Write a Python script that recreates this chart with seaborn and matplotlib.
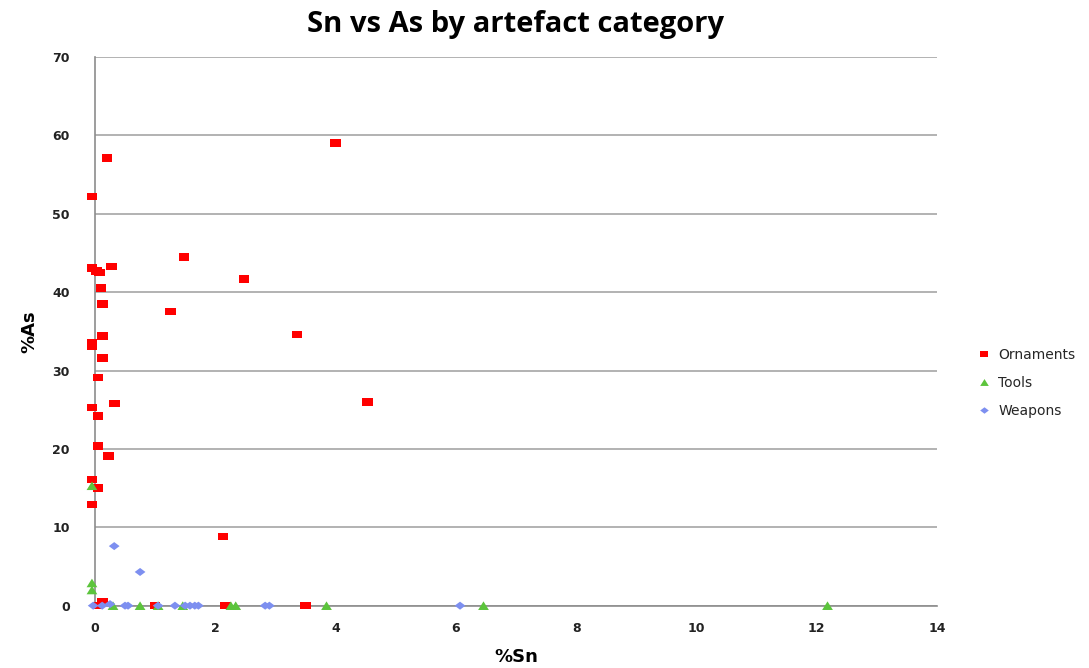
import numpy as np
import pandas as pd
import matplotlib
matplotlib.use("Agg")
import matplotlib.pyplot as plt
from matplotlib.path import Path
import seaborn as sns

# %Sn / %, per artefact category
orn_sn = [-0.05, 0.2, 4.0, -0.05, 0.03, 0.08, 0.27, 0.1, 1.48, 2.48, 0.12, 1.26, 3.36, 0.12,
          -0.05, -0.05, 0.12, 0.05, -0.05, 0.33, 0.05, 0.05, 0.23, -0.05, 0.05, -0.05,
          2.13, 4.53, 0.12, 0.05, 1.0, 2.17, 3.5]
orn_as = [52.2, 57.1, 59.0, 43.1, 42.7, 42.5, 43.3, 40.5, 44.5, 41.7, 38.5, 37.5, 34.6, 34.4,
          33.5, 33.1, 31.6, 29.1, 25.3, 25.8, 24.2, 20.4, 19.1, 16.1, 15.0, 12.9,
          8.8, 26.0, 0.5, 0.0, 0.0, 0.0, 0.0]

tool_sn = [-0.05, -0.05, -0.05, 0.3, 0.75, 1.05, 1.46, 2.26, 2.34, 3.85, 6.46, 12.18]
tool_as = [15.3, 2.9, 2.0, 0.0, 0.0, 0.0, 0.0, 0.0, 0.0, 0.0, 0.0, 0.0]

weap_sn = [0.32, 0.75, -0.03, 0.12, 0.25, 0.5, 0.55, 1.05, 1.33, 1.5, 1.58, 1.66, 1.72,
           2.83, 2.9, 6.07]
weap_as = [7.6, 4.3, 0.0, 0.0, 0.2, 0.0, 0.0, 0.0, 0.0, 0.0, 0.0, 0.0, 0.0, 0.0, 0.0, 0.0]

categories = ["Ornaments", "Tools", "Weapons"]

df = pd.concat([
    pd.DataFrame({"Sn": orn_sn, "As": orn_as, "category": "Ornaments"}),
    pd.DataFrame({"Sn": tool_sn, "As": tool_as, "category": "Tools"}),
    pd.DataFrame({"Sn": weap_sn, "As": weap_as, "category": "Weapons"}),
], ignore_index=True)

# markers look a bit stretched sideways in the original
rect = Path([(-1, -0.7), (1, -0.7), (1, 0.7), (-1, 0.7), (-1, -0.7)],
            [Path.MOVETO, Path.LINETO, Path.LINETO, Path.LINETO, Path.CLOSEPOLY])
tri = Path([(-1, -0.8), (1, -0.8), (0, 0.8), (-1, -0.8)],
           [Path.MOVETO, Path.LINETO, Path.LINETO, Path.CLOSEPOLY])
diam = Path([(-1, 0), (0, -0.75), (1, 0), (0, 0.75), (-1, 0)],
            [Path.MOVETO, Path.LINETO, Path.LINETO, Path.LINETO, Path.CLOSEPOLY])

palette = {"Ornaments": "#ff0000", "Tools": "#5cc43c", "Weapons": "#7d8ff0"}
markers = {"Ornaments": rect, "Tools": tri, "Weapons": diam}

sns.set_style("white")
plt.rcParams["font.family"] = ["DejaVu Sans"]

fig = plt.figure(figsize=(10.89, 6.68), dpi=100)
ax = fig.add_axes([0.0872, 0.0933, 0.7732, 0.8214])

sns.scatterplot(data=df, x="Sn", y="As", hue="category", style="category",
                hue_order=categories, style_order=categories,
                palette=palette, markers=markers, s=60, linewidth=0,
                ax=ax, clip_on=False, zorder=3)

ax.set_xlim(0, 14)
ax.set_ylim(0, 70)
ax.set_xticks(np.arange(0, 15, 2))
ax.set_yticks(np.arange(0, 71, 10))
ax.yaxis.grid(True, color="#a6a6a6", linewidth=1.2)
ax.xaxis.grid(False)
for side in ["top", "right"]:
    ax.spines[side].set_visible(False)
for side in ["left", "bottom"]:
    ax.spines[side].set_color("#8c8c8c")
    ax.spines[side].set_linewidth(1.2)
ax.tick_params(axis="both", which="major", direction="out", length=4, width=1,
               color="#8c8c8c", labelsize=9, labelcolor="#222222")
for lbl in ax.get_xticklabels() + ax.get_yticklabels():
    lbl.set_fontweight("bold")
ax.tick_params(axis="x", pad=8)
ax.tick_params(axis="y", pad=14)

ax.set_xlabel("%Sn", fontsize=13, fontweight="bold", labelpad=9, color="black")
ax.set_ylabel("%As", fontsize=13, fontweight="bold", labelpad=10, color="black")
fig.suptitle("Sn vs As by artefact category", x=0.473, y=0.985,
             fontsize=21, fontweight="bold", fontfamily="Open Sans", color="black")

handles, labels = ax.get_legend_handles_labels()
ax.legend(handles, labels, loc="center left", bbox_to_anchor=(1.024, 0.406),
          frameon=False, fontsize=10, handletextpad=0.05, labelspacing=1.0,
          markerscale=0.8)

fig.savefig("out.png", dpi=100)
